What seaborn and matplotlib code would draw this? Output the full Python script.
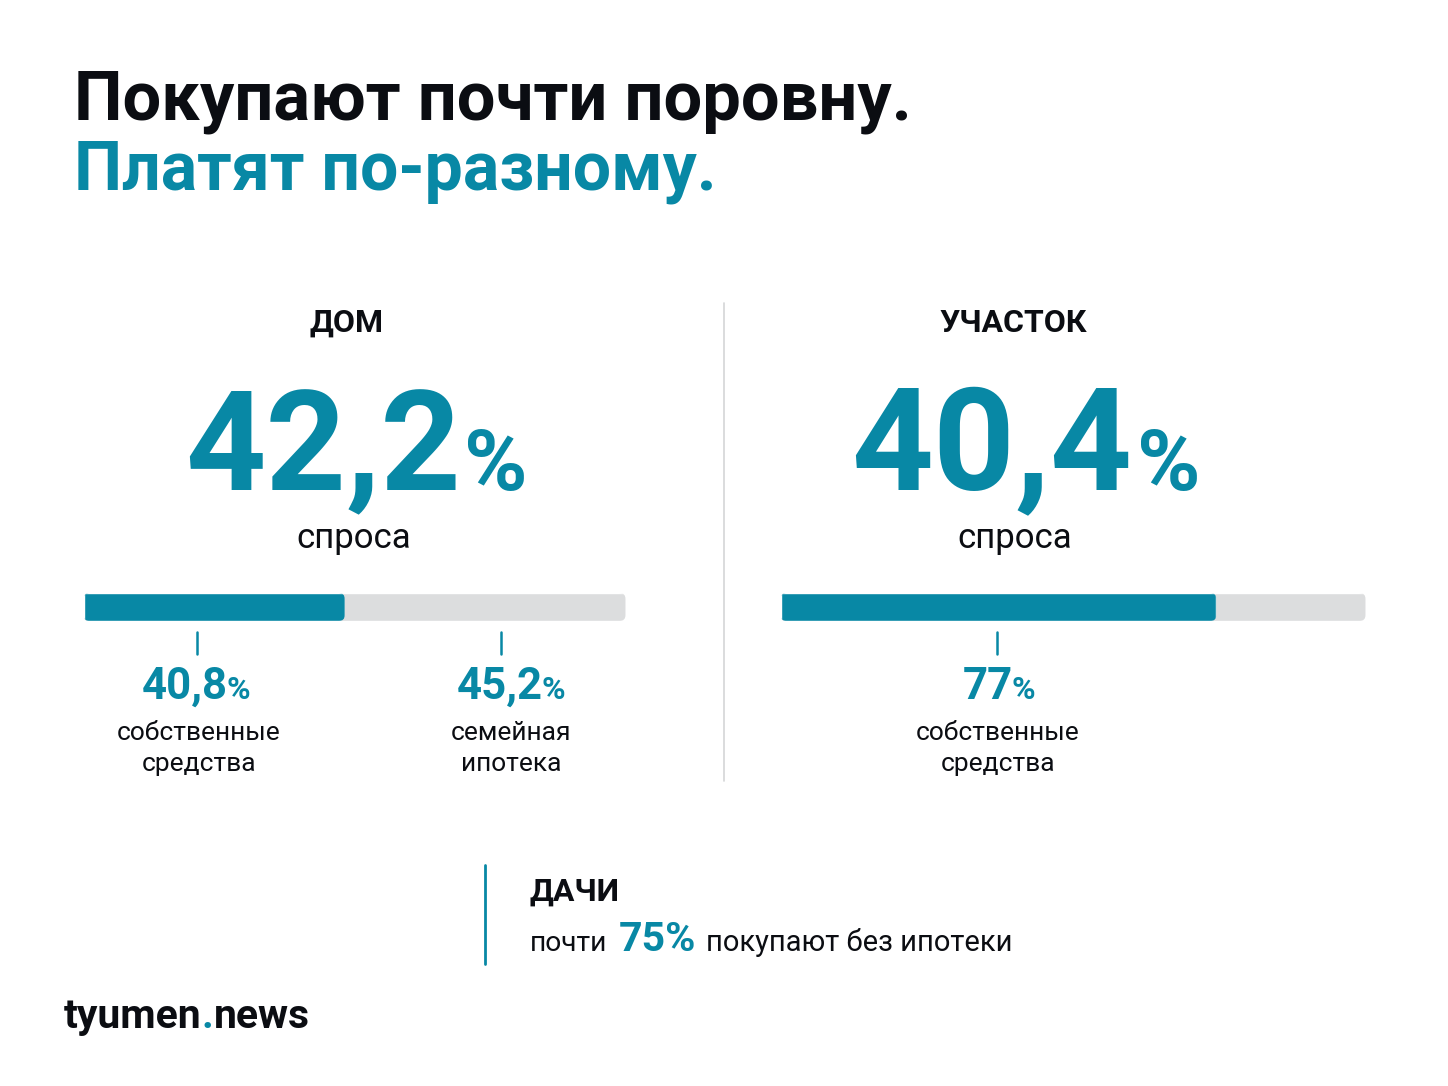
"""Infographic: how houses and plots are paid for."""

import matplotlib.pyplot as plt
import pandas as pd
import seaborn as sns
from matplotlib.patches import FancyBboxPatch

W, H = 1448, 1086
TEAL = "#0888a5"
TRACK = "#dcddde"
INK = "#0b0d12"

TITLE_LINES = ["Покупают почти поровну.", "Платят по-разному."]
PANELS = ["ДОМ", "УЧАСТОК"]
DEMAND = ["42,2", "40,4"]
BAR_SHARE = [48.2, 74.5]
HOUSE_SPLIT = ["40,8", "45,2"]
HOUSE_LABELS = ["собственные\nсредства", "семейная\nипотека"]
PLOT_SPLIT = ["77"]
PLOT_LABELS = ["собственные\nсредства"]

sns.set_theme(style="white")
plt.rcParams["font.family"] = ["Roboto", "DejaVu Sans"]

fig = plt.figure(figsize=(W / 100, H / 100), dpi=100, facecolor="white")
canvas = fig.add_axes([0, 0, 1, 1])
canvas.set_xlim(0, W)
canvas.set_ylim(H, 0)
canvas.axis("off")


def put_run(x, y, parts, center=False):
    # parts: (text, size, colour, weight, gap), laid side by side on one baseline
    rend = fig.canvas.get_renderer()
    items = []
    total = 0
    for text, size, color, weight, gap in parts:
        t = canvas.text(x, y, text, fontsize=size, color=color, fontweight=weight, va="baseline", ha="left")
        w = t.get_window_extent(rend).width
        items.append((t, w, gap))
        total += w + gap
    cur = x - total / 2 if center else x
    for t, w, gap in items:
        t.set_x(cur)
        cur += w + gap


def draw_bar(x0, x1, share):
    ax = fig.add_axes([x0 / W, 1 - 621 / H, (x1 - x0) / W, 28 / H])
    df = pd.DataFrame({"share": [share], "row": ["спрос"]})
    track = pd.DataFrame({"share": [100], "row": ["спрос"]})
    sns.barplot(data=track, x="share", y="row", color=TRACK, width=1, saturation=1, ax=ax)
    sns.barplot(data=df, x="share", y="row", color=TEAL, width=1, saturation=1, ax=ax)
    ax.set_xlim(0, 100)
    ax.set_ylim(0.5, -0.5)
    ax.axis("off")
    ax.patch.set_alpha(0)
    # rounded ends via clip in pixel units
    px0, py0 = ax.transAxes.transform((0, 0))
    for bar in ax.patches:
        ext = bar.get_width() / 100 * (x1 - x0)
        box = FancyBboxPatch((px0, py0), ext, 28, boxstyle="round,pad=0,rounding_size=6", transform=None, fc="none", ec="none")
        ax.add_artist(box)
        bar.set_clip_path(box)


# title
canvas.text(74, 119, TITLE_LINES[0], fontsize=49.4, fontweight="bold", color=INK, va="baseline")
canvas.text(74, 190, TITLE_LINES[1], fontsize=49, fontweight="bold", color=TEAL, va="baseline")

# panel headings and big numbers
canvas.text(347, 332, PANELS[0], fontsize=23, fontweight="bold", color=INK, ha="center", va="baseline")
canvas.text(1013, 332, PANELS[1], fontsize=23, fontweight="bold", color=INK, ha="center", va="baseline")
put_run(356, 490, [(DEMAND[0], 101, TEAL, "bold", 3), ("%", 62, TEAL, "bold", 0)], center=True)
put_run(1026, 490, [(DEMAND[1], 103, TEAL, "bold", 5), ("%", 62, TEAL, "bold", 0)], center=True)
canvas.text(354, 548, "спроса", fontsize=25, color=INK, ha="center", va="baseline")
canvas.text(1015, 548, "спроса", fontsize=25, color=INK, ha="center", va="baseline")

draw_bar(83.5, 625.5, BAR_SHARE[0])
draw_bar(780.5, 1365.5, BAR_SHARE[1])

# centre divider
canvas.plot([724, 724], [303, 781], color="#d4d5d7", lw=1.2)


def split_block(num_x, text_x, tick_x, value, label):
    canvas.plot([tick_x, tick_x], [632, 654], color=TEAL, lw=1.8)
    put_run(num_x, 699, [(value, 31.5, TEAL, "bold", -1), ("%", 23, TEAL, "bold", 0)], center=True)
    first, second = label.split("\n")
    canvas.text(text_x, 740, first, fontsize=19, color=INK, ha="center", va="baseline")
    canvas.text(text_x, 771, second, fontsize=19, color=INK, ha="center", va="baseline")


split_block(196, 199, 197, HOUSE_SPLIT[0], HOUSE_LABELS[0])
split_block(511, 511, 501, HOUSE_SPLIT[1], HOUSE_LABELS[1])
split_block(999, 998, 997, PLOT_SPLIT[0], PLOT_LABELS[0])

# dacha callout
canvas.plot([485, 485], [865, 964], color=TEAL, lw=2)
canvas.text(530, 901, "ДАЧИ", fontsize=23, fontweight="bold", color=INK, va="baseline")
put_run(530, 951, [("почти", 20.3, INK, "normal", 11), ("75%", 29.5, TEAL, "bold", 10), ("покупают без ипотеки", 21, INK, "normal", 0)])

# logo
put_run(64, 1028, [("tyumen", 29.4, INK, "bold", 0), (".", 29.4, TEAL, "bold", 0), ("news", 29.4, INK, "bold", 0)])

fig.savefig("out.png", dpi=100)
